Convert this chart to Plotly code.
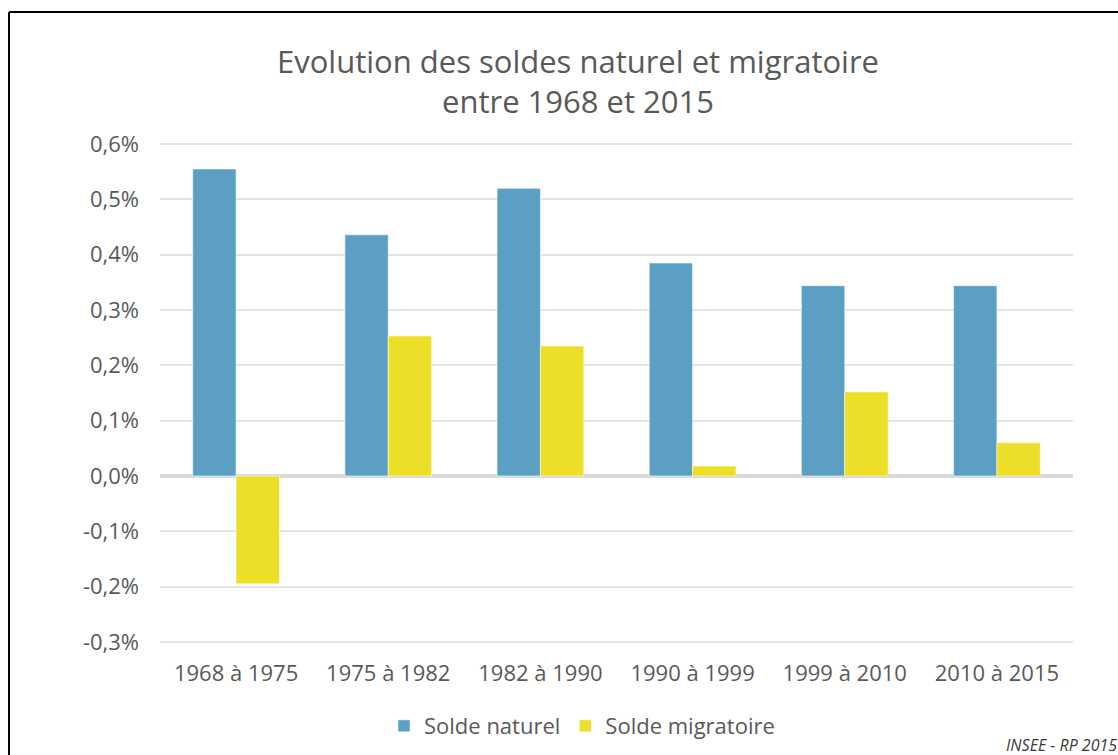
import plotly.graph_objects as go

categories = ["1968 à 1975", "1975 à 1982", "1982 à 1990", "1990 à 1999", "1999 à 2010", "2010 à 2015"]
solde_naturel = [0.555, 0.436, 0.520, 0.385, 0.344, 0.344]
solde_migratoire = [-0.195, 0.253, 0.235, 0.018, 0.152, 0.060]
y_tickvals = [-0.3, -0.2, -0.1, 0.0, 0.1, 0.2, 0.3, 0.4, 0.5, 0.6]
y_ticktext = ["-0,3%", "-0,2%", "-0,1%", "0,0%", "0,1%", "0,2%", "0,3%", "0,4%", "0,5%", "0,6%"]

FONT = "Open Sans"
GREY = "#595959"

fig = go.Figure()
fig.add_trace(go.Bar(
    x=categories, y=solde_naturel, name="Solde naturel",
    marker=dict(color="#5BA0C4", line=dict(color="rgba(255,255,255,0.55)", width=1)),
))
fig.add_trace(go.Bar(
    x=categories, y=solde_migratoire, name="Solde migratoire",
    marker=dict(color="#EDDE27", line=dict(color="rgba(255,255,255,0.55)", width=1)),
))

W, H = 1118, 755
L, R, T, B = 160, 45, 143, 112
pw, ph = W - L - R, H - T - B

def px_x(x):
    return (x - L) / pw

def px_y(y):
    return (H - B - y) / ph

fig.update_layout(
    width=W, height=H,
    margin=dict(l=L, r=R, t=T, b=B, autoexpand=False),
    paper_bgcolor="white", plot_bgcolor="white",
    font=dict(family=FONT, color=GREY, size=22),
    title=dict(
        text="Evolution des soldes naturel et migratoire<br>entre 1968 et 2015",
        x=578 / W, xref="container", xanchor="center",
        y=1 - 73 / H, yref="container", yanchor="middle",
        font=dict(family=FONT, size=31, color=GREY),
    ),
    barmode="group", bargap=0.43, bargroupgap=0,
    showlegend=True,
    legend=dict(
        orientation="h", x=px_x(582), xanchor="center", y=px_y(726), yanchor="middle",
        font=dict(family=FONT, size=22, color=GREY), itemwidth=30,
        bgcolor="rgba(0,0,0,0)",
    ),
    xaxis=dict(
        showgrid=False, showline=False, ticks="", tickfont=dict(size=22, color=GREY),
        ticklabelstandoff=15,
    ),
    yaxis=dict(
        range=[-0.302, 0.602], tickvals=y_tickvals, ticktext=y_ticktext,
        showgrid=True, gridcolor="#E4E4E4", gridwidth=2,
        zeroline=True, zerolinecolor="#D9D9D9", zerolinewidth=4,
        showline=False, ticks="", tickfont=dict(size=22, color=GREY),
        ticklabelstandoff=20,
    ),
    shapes=[
        dict(type="line", xref="paper", yref="paper",
             x0=px_x(9), x1=px_x(9), y0=px_y(12), y1=px_y(800),
             line=dict(color="black", width=2)),
        dict(type="line", xref="paper", yref="paper",
             x0=px_x(9), x1=px_x(1200), y0=px_y(12), y1=px_y(12),
             line=dict(color="black", width=2)),
    ],
    annotations=[
        dict(text="<i>INSEE - RP 2015</i>", xref="paper", yref="paper",
             x=px_x(1004), y=px_y(745), xanchor="left", yanchor="middle",
             showarrow=False, font=dict(family=FONT, size=16, color="#3A3A3A")),
    ],
)

fig.write_html("out.html", config={"displayModeBar": False},
               post_script="document.body.style.margin='0';document.body.style.overflow='hidden';")
